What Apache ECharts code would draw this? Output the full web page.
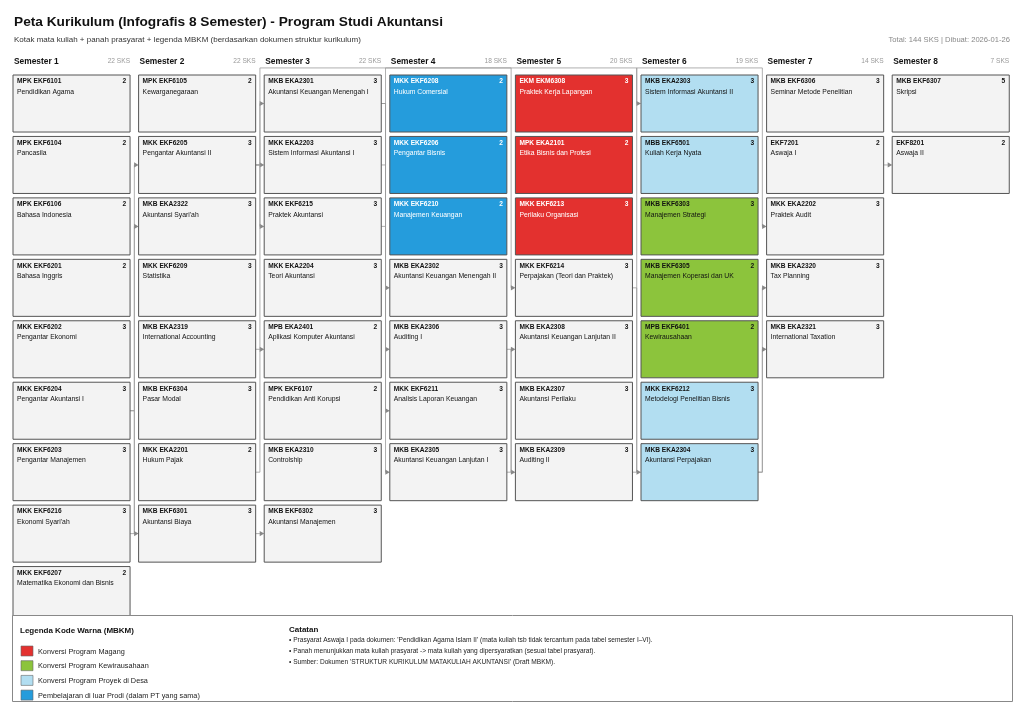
<!DOCTYPE html>
<html>
<head>
<meta charset="utf-8">
<script src="https://cdn.jsdelivr.net/npm/echarts@6/dist/echarts.min.js"></script>
<style>
  html, body { margin: 0; padding: 0; background: #fff; }
  #main { width: 1024px; height: 724px; }
</style>
</head>
<body>
<div id="main"></div>
<script type="text/javascript">
// data semester
var semNames = ['Semester 1', 'Semester 2', 'Semester 3', 'Semester 4', 'Semester 5', 'Semester 6', 'Semester 7', 'Semester 8'];
var semSks = [22, 22, 22, 18, 20, 19, 14, 7];

// data mata kuliah (urut per semester, dari atas ke bawah)
var courseSem = [
  1, 1, 1, 1, 1, 1, 1, 1, 1,
  2, 2, 2, 2, 2, 2, 2, 2,
  3, 3, 3, 3, 3, 3, 3, 3,
  4, 4, 4, 4, 4, 4, 4,
  5, 5, 5, 5, 5, 5, 5,
  6, 6, 6, 6, 6, 6, 6,
  7, 7, 7, 7, 7,
  8, 8
];
var courseCode = [
  'MPK EKF6101', 'MPK EKF6104', 'MPK EKF6106', 'MKK EKF6201', 'MKK EKF6202', 'MKK EKF6204', 'MKK EKF6203', 'MKK EKF6216', 'MKK EKF6207',
  'MPK EKF6105', 'MKK EKF6205', 'MKB EKA2322', 'MKK EKF6209', 'MKB EKA2319', 'MKB EKF6304', 'MKK EKA2201', 'MKB EKF6301',
  'MKB EKA2301', 'MKK EKA2203', 'MKK EKF6215', 'MKK EKA2204', 'MPB EKA2401', 'MPK EKF6107', 'MKB EKA2310', 'MKB EKF6302',
  'MKK EKF6208', 'MKK EKF6206', 'MKK EKF6210', 'MKB EKA2302', 'MKB EKA2306', 'MKK EKF6211', 'MKB EKA2305',
  'EKM EKM6308', 'MPK EKA2101', 'MKK EKF6213', 'MKK EKF6214', 'MKB EKA2308', 'MKB EKA2307', 'MKB EKA2309',
  'MKB EKA2303', 'MBB EKF6501', 'MKB EKF6303', 'MKB EKF6305', 'MPB EKF6401', 'MKK EKF6212', 'MKB EKA2304',
  'MKB EKF6306', 'EKF7201', 'MKK EKA2202', 'MKB EKA2320', 'MKB EKA2321',
  'MKB EKF6307', 'EKF8201'
];
var courseName = [
  'Pendidikan Agama', 'Pancasila', 'Bahasa Indonesia', 'Bahasa Inggris', 'Pengantar Ekonomi', 'Pengantar Akuntansi I', 'Pengantar Manajemen', "Ekonomi Syari'ah", 'Matematika Ekonomi dan Bisnis',
  'Kewarganegaraan', 'Pengantar Akuntansi II', "Akuntansi Syari'ah", 'Statistika', 'International Accounting', 'Pasar Modal', 'Hukum Pajak', 'Akuntansi Biaya',
  'Akuntansi Keuangan Menengah I', 'Sistem Informasi Akuntansi I', 'Praktek Akuntansi', 'Teori Akuntansi', 'Aplikasi Komputer Akuntansi', 'Pendidikan Anti Korupsi', 'Controlship', 'Akuntansi Manajemen',
  'Hukum Comersial', 'Pengantar Bisnis', 'Manajemen Keuangan', 'Akuntansi Keuangan Menengah II', 'Auditing I', 'Analisis Laporan Keuangan', 'Akuntansi Keuangan Lanjutan I',
  'Praktek Kerja Lapangan', 'Etika Bisnis dan Profesi', 'Perilaku Organisasi', 'Perpajakan (Teori dan Praktek)', 'Akuntansi Keuangan Lanjutan II', 'Akuntansi Perilaku', 'Auditing II',
  'Sistem Informasi Akuntansi II', 'Kuliah Kerja Nyata', 'Manajemen Strategi', 'Manajemen Koperasi dan UK', 'Kewirausahaan', 'Metodelogi Penelitian Bisnis', 'Akuntansi Perpajakan',
  'Seminar Metode Penelitian', 'Aswaja I', 'Praktek Audit', 'Tax Planning', 'International Taxation',
  'Skripsi', 'Aswaja II'
];
var courseSks = [
  2, 2, 2, 2, 3, 3, 3, 3, 2,
  2, 3, 3, 3, 3, 3, 2, 3,
  3, 3, 3, 3, 2, 2, 3, 3,
  2, 2, 2, 3, 3, 3, 3,
  3, 2, 3, 3, 3, 3, 3,
  3, 3, 3, 2, 2, 3, 3,
  3, 2, 3, 3, 3,
  5, 2
];
// 0 = reguler, 1 = magang, 2 = kewirausahaan, 3 = proyek di desa, 4 = luar prodi
var courseType = [
  0, 0, 0, 0, 0, 0, 0, 0, 0,
  0, 0, 0, 0, 0, 0, 0, 0,
  0, 0, 0, 0, 0, 0, 0, 0,
  4, 4, 4, 0, 0, 0, 0,
  1, 1, 1, 0, 0, 0, 0,
  3, 3, 2, 2, 2, 3, 3,
  0, 0, 0, 0, 0,
  0, 0
];

// prasyarat: dari -> ke
var prereqFrom = ['MKK EKF6204', 'MKK EKF6216', 'MKK EKF6204', 'MKK EKF6205', 'MKK EKF6205', 'MKK EKF6205', 'MKB EKA2319', 'MKB EKF6301', 'MKK EKA2201',
  'MKB EKA2301', 'MKB EKA2301', 'MKK EKF6215', 'MKB EKA2301', 'MKK EKA2203', 'MKB EKA2306', 'MKB EKA2305', 'MKK EKF6214', 'MKB EKA2309',
  'MKB EKA2304', 'MKB EKA2304', 'EKF7201'];
var prereqTo = ['MKK EKF6205', 'MKB EKA2322', 'MKB EKF6301', 'MKB EKA2301', 'MKK EKA2203', 'MKK EKF6215', 'MPB EKA2401', 'MKB EKF6302', 'MKK EKF6214',
  'MKB EKA2302', 'MKK EKF6211', 'MKB EKA2306', 'MKB EKA2305', 'MKB EKA2303', 'MKB EKA2309', 'MKB EKA2308', 'MKB EKA2304', 'MKK EKA2202',
  'MKB EKA2320', 'MKB EKA2321', 'EKF8201'];

var legendLabels = ['Konversi Program Magang', 'Konversi Program Kewirausahaan', 'Konversi Program Proyek di Desa', 'Pembelajaran di luar Prodi (dalam PT yang sama)'];
var notes = [
  "\u2022 Prasyarat Aswaja I pada dokumen: 'Pendidikan Agama Islam II' (mata kuliah tsb tidak tercantum pada tabel semester I\u2013VI).",
  '\u2022 Panah menunjukkan mata kuliah prasyarat -> mata kuliah yang dipersyaratkan (sesuai tabel prasyarat).',
  "\u2022 Sumber: Dokumen 'STRUKTUR KURIKULUM MATAKULIAH AKUNTANSI' (Draft MBKM)."
];

var FONT = '"Liberation Sans", Arial, Helvetica, sans-serif';
var typeFill = ['#f3f3f3', '#e3312f', '#8cc43c', '#b2def1', '#259cdc'];
var typeText = ['#111', '#fff', '#111', '#111', '#fff'];
var BOX_W = 0.932, BOX_H = 0.928, GAP = 0.034, LANE = -0.115;

// hitung baris tiap mata kuliah
var courseRow = [];
var counter = {};
courseSem.forEach(function (s) {
  counter[s] = (counter[s] || 0);
  courseRow.push(counter[s]);
  counter[s]++;
});

var boxData = courseCode.map(function (c, i) {
  return [courseSem[i] - 1, courseRow[i], i];
});
var headData = semNames.map(function (n, i) { return [i, 0, i]; });
var linkData = prereqFrom.map(function (f, i) {
  var a = courseCode.indexOf(f), b = courseCode.indexOf(prereqTo[i]);
  return [courseSem[a] - 1, courseRow[a], courseSem[b] - 1, courseRow[b]];
});

// elemen legenda & catatan (di atas kotak)
var legendEls = [
  { type: 'rect', left: 12, top: 615, z: 100, shape: { width: 1000, height: 86 }, style: { fill: '#fff', stroke: '#888', lineWidth: 1 } },
  { type: 'text', x: 20, y: 631, z: 101, style: { text: 'Legenda Kode Warna (MBKM)', font: 'bold 8px ' + FONT, fill: '#111', verticalAlign: 'middle' } },
  { type: 'text', x: 289, y: 630, z: 101, style: { text: 'Catatan', font: 'bold 8px ' + FONT, fill: '#111', verticalAlign: 'middle' } }
];
legendLabels.forEach(function (l, i) {
  legendEls.push({ type: 'rect', z: 101, shape: { x: 21, y: 646 + i * 14.7, width: 12, height: 10 }, style: { fill: typeFill[i + 1], stroke: '#666', lineWidth: 0.6 } });
  legendEls.push({ type: 'text', x: 38, y: 651.5 + i * 14.7, z: 101, style: { text: l, font: '7.3px ' + FONT, fill: '#222', verticalAlign: 'middle' } });
});
notes.forEach(function (n, i) {
  legendEls.push({ type: 'text', x: 289, y: 640.5 + i * 11, z: 101, style: { text: n, font: '6.6px ' + FONT, fill: '#222', verticalAlign: 'middle' } });
});

var myChart = echarts.init(document.getElementById('main'));

var option = {
  animation: false,
  grid: { left: 13, top: 75, width: 1004.8, height: 553, containLabel: false },
  xAxis: { type: 'value', min: 0, max: 8, show: false },
  yAxis: { type: 'value', min: 0, max: 9, inverse: true, show: false },
  graphic: [
    { type: 'text', left: 14, top: 15, z: 100, style: { text: 'Peta Kurikulum (Infografis 8 Semester) - Program Studi Akuntansi', font: 'bold 13.7px ' + FONT, fill: '#111' } },
    { type: 'text', left: 14, top: 36, z: 100, style: { text: 'Kotak mata kuliah + panah prasyarat + legenda MBKM (berdasarkan dokumen struktur kurikulum)', font: '8px ' + FONT, fill: '#333' } },
    { type: 'text', right: 14, top: 36, z: 100, style: { text: 'Total: 144 SKS | Dibuat: 2026-01-26', font: '7.6px ' + FONT, fill: '#888' } }
  ].concat(legendEls),
  series: [
    {
      // garis prasyarat
      type: 'custom',
      z: 1,
      silent: true,
      clip: false,
      data: linkData,
      renderItem: function (params, api) {
        var fs = api.value(0), fr = api.value(1), ts = api.value(2), tr = api.value(3);
        var p0 = api.coord([fs + BOX_W, fr + BOX_H / 2]);
        var p1 = api.coord([ts, tr + BOX_H / 2]);
        var gIn = api.coord([ts - GAP, 0])[0];
        var pts;
        if (ts === fs + 1) {
          pts = [p0, [gIn, p0[1]], [gIn, p1[1]], [p1[0] - 3, p1[1]]];
        } else {
          var gOut = api.coord([fs + 1 - GAP, 0])[0];
          var lane = api.coord([0, LANE])[1];
          pts = [p0, [gOut, p0[1]], [gOut, lane], [gIn, lane], [gIn, p1[1]], [p1[0] - 3, p1[1]]];
        }
        return {
          type: 'group',
          children: [
            { type: 'polyline', shape: { points: pts }, style: { stroke: '#9a9a9a', lineWidth: 0.8, fill: null } },
            { type: 'polygon', shape: { points: [[p1[0] - 4.5, p1[1] - 2.6], [p1[0], p1[1]], [p1[0] - 4.5, p1[1] + 2.6]] }, style: { fill: '#888' } }
          ]
        };
      }
    },
    {
      // kotak mata kuliah
      type: 'custom',
      z: 2,
      clip: false,
      data: boxData,
      renderItem: function (params, api) {
        var i = api.value(2);
        var p = api.coord([api.value(0), api.value(1)]);
        var sz = api.size([1, 1]);
        var w = sz[0] * BOX_W, h = sz[1] * BOX_H;
        var t = courseType[i];
        return {
          type: 'group',
          children: [
            { type: 'rect', shape: { x: p[0], y: p[1], width: w, height: h }, style: { fill: typeFill[t], stroke: '#555', lineWidth: 1 } },
            { type: 'text', style: { x: p[0] + 4, y: p[1] + 6.5, text: courseCode[i], font: 'bold 6.6px ' + FONT, fill: typeText[t], verticalAlign: 'middle' } },
            { type: 'text', style: { x: p[0] + w - 4, y: p[1] + 6.5, text: String(courseSks[i]), font: 'bold 6.6px ' + FONT, fill: typeText[t], align: 'right', verticalAlign: 'middle' } },
            { type: 'text', style: { x: p[0] + 4, y: p[1] + 16.8, text: courseName[i], font: '6.8px ' + FONT, fill: typeText[t], verticalAlign: 'middle' } }
          ]
        };
      }
    },
    {
      // judul semester
      type: 'custom',
      z: 3,
      clip: false,
      silent: true,
      data: headData,
      renderItem: function (params, api) {
        var i = api.value(2);
        var p = api.coord([api.value(0), -0.22]);
        var w = api.size([1, 1])[0] * BOX_W;
        return {
          type: 'group',
          children: [
            { type: 'text', style: { x: p[0] + 1, y: p[1], text: semNames[i], font: 'bold 8.4px ' + FONT, fill: '#111', verticalAlign: 'middle' } },
            { type: 'text', style: { x: p[0] + w, y: p[1], text: semSks[i] + ' SKS', font: '6.6px ' + FONT, fill: '#999', align: 'right', verticalAlign: 'middle' } }
          ]
        };
      }
    }
  ]
};

myChart.setOption(option);
</script>
</body>
</html>
